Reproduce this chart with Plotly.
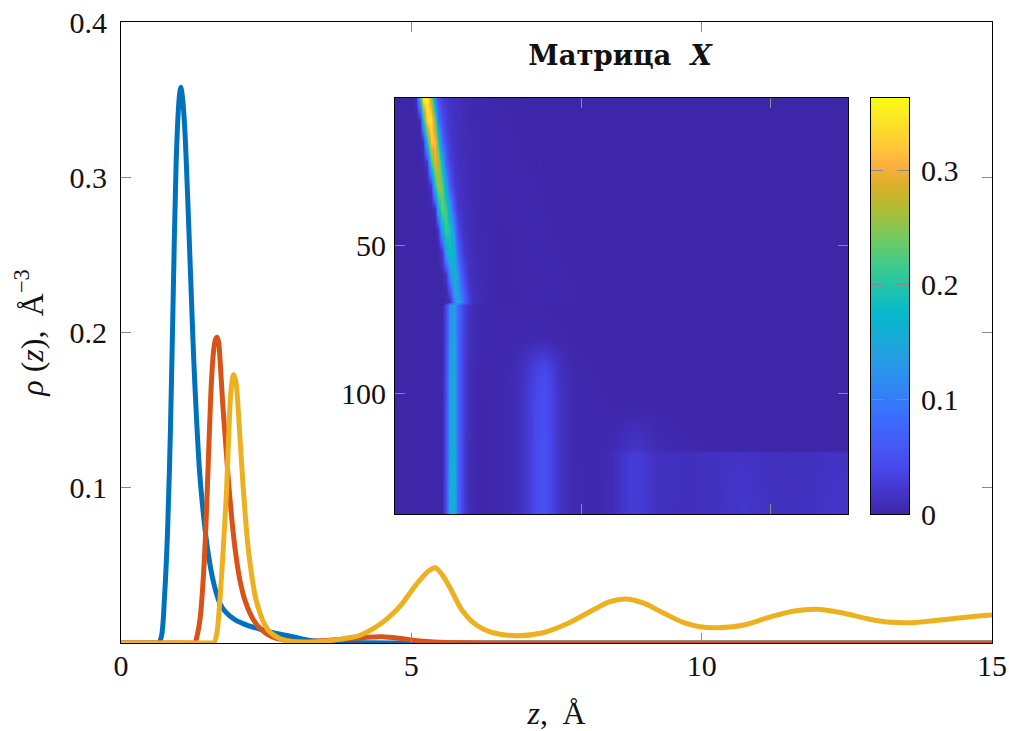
import numpy as np
import plotly.graph_objects as go

# ---------- line chart data ----------
z_blue = [0,0.3,0.5,0.6,0.65,0.70,0.75,0.80,0.85,0.90,0.95,1.0,1.03,1.06,1.1,1.15,1.2,1.25,1.3,1.35,1.4,1.5,1.6,1.7,1.8,1.96,2.2,2.45,2.7,2.96,3.2,3.43,3.8,4.2,5,6,8,10,12,14,15]
rho_blue = [0,0,0,0,0,.005,.03,.07,.135,.225,.31,.35,.358,.351,.33,.285,.235,.185,.145,.112,.09,.058,.038,.0258,.02,.015,.011,.0084,.006,.004,.002,.001,.0005,.0002,0,0,0,0,0,0,0]
z_red = [0,0.4,0.8,1.1,1.2,1.27,1.30,1.36,1.40,1.45,1.487,1.52,1.56,1.60,1.63,1.653,1.68,1.71,1.75,1.8,1.86,1.96,2.05,2.15,2.28,2.42,2.6,2.79,3.0,3.3,3.6,3.9,4.2,4.5,4.8,5.1,5.5,6,6.5,7,8,9,10,11,12,13,14,15]
rho_red = [0,0,0,0,0,0,.003,.015,.032,.065,.1,.1336,.17,.19,.196,.197,.194,.18,.155,.13,.1,.062,.04,.0258,.015,.0084,.004,.002,.001,.0012,.0018,.0027,.0036,.004,.003,.0015,.0005,.0001,0,0,0,0,0,0,0,0,0,0]
z_yellow = [0,0.4,0.8,1.2,1.4,1.5,1.56,1.6,1.65,1.7,1.76,1.82,1.865,1.9,1.94,1.98,2.03,2.105,2.2,2.34,2.53,2.79,3.1,3.5,3.8,3.95,4.12,4.4,4.58,4.8,5.03,5.15,5.3,5.41,5.52,5.67,5.87,6.12,6.41,6.81,7.27,7.67,8.13,8.42,8.68,8.99,9.34,9.68,9.97,10.28,10.75,11.2,11.6,11.98,12.41,12.87,13.27,13.62,14.07,14.47,15]
rho_yellow = [0,0,0,0,0,0,0,0,.006,.026,.06,.1,.1436,.165,.173,.168,.1436,.1,.058,.0258,.0084,.002,.0006,.0012,.0025,.0035,.005,.0105,.0155,.0234,.035,.0406,.0465,.0485,.0445,.0353,.0213,.0116,.0066,.0047,.0066,.0122,.0213,.0266,.0283,.0258,.0193,.0133,.0105,.0099,.0118,.017,.0206,.0217,.0195,.0155,.0133,.0131,.0146,.0163,.018]

# ---------- matrix X, sampled rows/columns, values in thousandths ----------
matrix_rows = [1,8,15,22,30,38,45,52,60,66,69,70,78,82,86,90,96,104,108,112,116,119,120,130,140]
left_cols = [1,5,6,7,8,9,10,11,12,13,14,15,16,17,18,19,20,21,22,23,24,25,26]
right_cols = [28,31,34,36,38,40,42,44,47,50,54,58,61,63,65,67,70,74,78,81,85,89,93,97,101,105,110,115,120]
left_block = [
 [0,0,12,170,350,360,270,110,50,31,22,16,13,11,9,7,6,5,4,3.5,3,2.5,2],
 [0,0,0,12,180,340,345,240,95,46,27,19,15,12,10,7.5,6,5,4.5,4,3.5,3,2.5],
 [0,0,0,0,16,190,325,310,205,80,40,25,17,13,10,8.5,7,6,5,4.5,4,3.5,3],
 [0,0,0,0,3,24,215,300,270,165,65,31,21,15,11,9,7.5,6,5.5,5,4.5,4,3.5],
 [0,0,0,0,0,2,20,195,265,235,145,58,28,19,14,10.5,8,6.5,5,4.5,4,3.5,3],
 [0,0,0,0,0,0,2,13,155,235,215,135,55,26,17,12,9.5,8,5.5,5,4.5,4,3],
 [0,0,0,0,0,0,0,1,16,160,215,190,120,48,23,15,11,8,6,5,4.5,4,3],
 [0,0,0,0,0,0,0,0,1,23,155,185,165,80,38,18,12.5,8,6.5,5.5,4.5,4,3],
 [0,0,0,0,0,0,0,0,0,1,20,125,160,135,68,35,17,10,8,6,5,4,3],
 [0,0,0,0,0,0,0,0,0,0,3.5,45,135,145,100,50,24,15,9,7,5.5,4.5,3],
 [0,0,0,0,0,0,0,0,0,0,1,13.5,100,140,120,62,30,16,10,7,5.5,4.5,3],
 [0,0,0,0,0,0,0,0,0,1,40,120,135,90,50,28,15,9,6,5,4,3.5,3],
 [0,0,0,0,0,0,0,0,0,1,42,125,140,90,48,26,14,8,5,4,3.5,3,3],
 [0,0,0,0,0,0,0,0,0,1,43,128,143,90,47,25,13,8,5,4,3,3,3],
 [0,0,0,0,0,0,0,0,0,1,45,132,147,90,47,25,13,7,4.5,3.5,3,3,3],
 [0,0,0,0,0,0,0,0,0,1,46,135,150,90,46,24,12,7,4,3,2.5,2.5,3],
 [0,0,0,0,0,0,0,0,0,1,47,138,154,89,46,24,12,6.5,3.5,2.5,2,2.5,3],
 [0,0,0,0,0,0,0,0,0,1,48,142,158,88,45,23,11,6,3,2,2,2,2.5],
 [0,0,0,0,0,0,0,0,0,1,49,144,160,88,45,23,11,6,3,2,2,2,2.5],
 [0,0,0,0,0,0,0,0,0,1,49,145,161,88,45,22,11,5.5,3,2,1.5,2,2],
 [0,0,0,0,0,0,0,0,0,1,50,147,162,87,45,22,10,5,2.5,1.5,1.5,2,2],
 [0,0,0,0,0,0,0,0,0,1,50,148,163,87,45,22,10,5,2.5,1.5,1.5,2,2],
 [0,0,0,0,0,0,0,0,0,1,50,148,164,87,45,22,10,5,2.5,1.5,1.5,2,2],
 [0,0,0,0,0,0,0,0,0,1,50,150,167,87,45,22,9.5,5,2,1,1,1.5,2],
 [0,0,0,0,0,0,0,0,0,0,50,152,170,87,45,22,9,5,2,1,1,1.5,2],
]
right_block = [
 [2,1,1,.5,.5,.5,.5,.5,.5,.5,.5,.5,.5,.5,.5,.5,.5,.5,.5,.5,.5,.5,.5,.5,.5,.5,.5,.5,.5],
 [3,2,1,.5,.5,.5,.5,.5,.5,.5,.5,.5,.5,.5,.5,.5,.5,.5,.5,.5,.5,.5,.5,.5,.5,.5,.5,.5,.5],
 [3.5,3,1.5,1,.5,.5,.5,.5,.5,.5,.5,.5,.5,.5,.5,.5,.5,.5,.5,.5,.5,.5,.5,.5,.5,.5,.5,.5,.5],
 [3,3.5,2.5,1.5,1,.5,.5,.5,.5,.5,.5,.5,.5,.5,.5,.5,.5,.5,.5,.5,.5,.5,.5,.5,.5,.5,.5,.5,.5],
 [2.5,3,3.5,3,2,1,.5,.5,.5,.5,.5,.5,.5,.5,.5,.5,.5,.5,.5,.5,.5,.5,.5,.5,.5,.5,.5,.5,.5],
 [2,2.5,3.5,3.5,3,2,1,.5,.5,.5,.5,.5,.5,.5,.5,.5,.5,.5,.5,.5,.5,.5,.5,.5,.5,.5,.5,.5,.5],
 [2,2,3,3.5,3.5,3,2,1,.5,.5,.5,.5,.5,.5,.5,.5,.5,.5,.5,.5,.5,.5,.5,.5,.5,.5,.5,.5,.5],
 [2,2,2.5,3,3.5,3.5,3,2,1,.5,.5,.5,.5,.5,.5,.5,.5,.5,.5,.5,.5,.5,.5,.5,.5,.5,.5,.5,.5],
 [2,2,2.5,2.5,3,3.5,3.5,3,2,1,.5,.5,.5,.5,.5,.5,.5,.5,.5,.5,.5,.5,.5,.5,.5,.5,.5,.5,.5],
 [2,2,2,2.5,3,3,3.5,3.5,2.5,1.5,.5,.5,.5,.5,.5,.5,.5,.5,.5,.5,.5,.5,.5,.5,.5,.5,.5,.5,.5],
 [2,2,2,2.5,2.5,3,3.5,3.5,3,1.5,1,.5,.5,.5,.5,.5,.5,.5,.5,.5,.5,.5,.5,.5,.5,.5,.5,.5,.5],
 [2,2,2,2,2,1.5,1.5,1,.5,.5,.5,.5,.5,.5,.5,.5,.5,.5,.5,.5,.5,.5,.5,.5,.5,.5,.5,.5,.5],
 [3,3,3,3,3,3,2.5,2,1.5,1,.5,.5,.5,.5,.5,.5,.5,.5,.5,.5,.5,.5,.5,.5,.5,.5,.5,.5,.5],
 [3,3,4,5,6,6,4,3,2,1,.5,.5,.5,.5,.5,.5,.5,.5,.5,.5,.5,.5,.5,.5,.5,.5,.5,.5,.5],
 [3,4,7,13,19,22,15,8,3,2,1,.5,.5,.5,.5,.5,.5,.5,.5,.5,.5,.5,.5,.5,.5,.5,.5,.5,.5],
 [3,5,11,22,32,37,27,13,4,2.5,1.5,1,.5,.5,.5,.5,.5,.5,.5,.5,.5,.5,.5,.5,.5,.5,.5,.5,.5],
 [3,6,13,27,40,46,33,17,5,3,2,1.5,1,.5,.5,.5,.5,.5,.5,.5,.5,.5,.5,.5,.5,.5,.5,.5,.5],
 [3,6,14,29,44,49,35,18,6,3.5,2.5,2,1.5,1.5,1,1,.5,.5,.5,.5,.5,.5,.5,.5,.5,.5,.5,.5,.5],
 [3,6,14,29,44,49,35,18,6,4,3,3,4,5,6,5,3,1.5,1,.5,.5,.5,.5,.5,.5,.5,.5,.5,.5],
 [3,6,14,29,45,50,36,18,6,4,3.5,4,8,11,12,9,5,3,1.5,1,.5,.5,.5,.5,.5,.5,.5,.5,.5],
 [3,6,14,29,45,50,36,18,6,4,4,5,11,15,16,12,7,4,2.5,2,1,.5,.5,.5,.5,.5,.5,.5,.5],
 [3,6,14,29,46,51,36,18,6,4,4,6,14,18,19,14,8,5,3,2.5,2,1.5,1,.5,.5,.5,.5,.5,.5],
 [3,6,14,29,46,51,36,18,6,4,4,9,21,27,28,22,14,13,12,13,14,16,17,15,13,12,13,16,17],
 [3,6,14,29,46,51,36,18,6,4.5,4.5,9,21,27,28,22,14,12.5,12,13,14,18,19,16,13.5,12.5,14,17,18],
 [3,6,14,29,46,52,36,18,6,4.5,4.5,9,21,27,28,23,14,12,12,13,15,19,21,18,14,13,15,18,19],
]
colorbar_levels = [0, 0.363]
cmap_positions = [0,.06,.111,.163,.243,.323,.403,.483,.547,.595,.66,.724,.788,.844,.884,1]
cmap_colors = ["#3E26A8","#4436CD","#4747EB","#4558F5","#3A70FF","#2E8DF0","#1FA5DD","#05B8CC","#22C4A8","#3CCB8E",
               "#6FCB62","#A8BE38","#D8B028","#FFB040","#FFC838","#F9FB15"]

x_ticks = [0,5,10,15]
y_ticks = [0.1,0.2,0.3,0.4]
inset_y_ticks = [50,100]
inset_x_ticks = [50,100]
bar_ticks = [0,0.1,0.2,0.3]

matrix_cols = left_cols + right_cols
X = np.hstack([np.array(left_block), np.array(right_block)]) / 1000.0
parula = [[p, c] for p, c in zip(cmap_positions, cmap_colors)]

FONT = "Liberation Serif"
FS = 30
W, H = 1009, 731
L, R, T, B = 121, 992, 22, 643
PW, PH = R-L, B-T
def dx(a, b): return [(a-L)/PW, (b-L)/PW]
def dy(top, bottom): return [(B-bottom)/PH, (B-top)/PH]
TICK = "#8a8a8a"

fig = go.Figure()
for zz, rr, col in [(z_blue, rho_blue, "#0072BD"), (z_red, rho_red, "#D95319"), (z_yellow, rho_yellow, "#EDB120")]:
    fig.add_trace(go.Scatter(x=zz, y=rr, mode="lines", cliponaxis=False, showlegend=False,
                             line=dict(color=col, width=5, shape="spline", smoothing=0.9)))
fig.add_trace(go.Heatmap(x=matrix_cols, y=matrix_rows, z=X, xaxis="x2", yaxis="y2", zsmooth="best",
                         colorscale=parula, zmin=colorbar_levels[0], zmax=colorbar_levels[1], showscale=False))
fig.add_trace(go.Heatmap(x=[0,1], y=colorbar_levels, z=[[colorbar_levels[0]]*2, [colorbar_levels[1]]*2],
                         xaxis="x3", yaxis="y3", zsmooth="best", colorscale=parula,
                         zmin=colorbar_levels[0], zmax=colorbar_levels[1], showscale=False))

axis_base = dict(showgrid=False, zeroline=False, showline=True, linecolor="#000", linewidth=1, automargin=False,
                 mirror="ticks", ticks="inside", tickcolor=TICK, tickwidth=1,
                 tickfont=dict(family=FONT, size=FS, color="#111"))
fig.update_layout(
    width=W, height=H, autosize=False, paper_bgcolor="white", plot_bgcolor="white",
    margin=dict(l=L, r=W-R, t=T, b=H-B),
    font=dict(family=FONT, size=FS, color="#111"),
    title=dict(text="<b>Матрица  <i>X</i></b>", x=620/W, xanchor="center", y=1-55/H, yanchor="middle",
               font=dict(family="DejaVu Serif", size=27.5, color="#111")),
    xaxis=dict(axis_base, domain=[0,1], range=[0,15], tickvals=x_ticks, ticklen=10,
               ticktext=[str(v) for v in x_ticks], ticklabelstandoff=-4,
               title=dict(text="<i>z</i>,\u2009 Å", standoff=24, font=dict(family=FONT, size=32))),
    yaxis=dict(axis_base, domain=[0,1], range=[0,0.4], tickvals=y_ticks, ticklen=10,
               ticktext=["0.1","0.2","0.3","0.4"], ticklabelstandoff=7,
               title=dict(text="<i>ρ</i> (<i>z</i>),\u2009 Å<sup>−3</sup>", standoff=16, font=dict(family=FONT, size=32))),
    xaxis2=dict(axis_base, domain=dx(395,848), anchor="y2", range=[0.5,120.5], tickvals=inset_x_ticks,
                ticklen=10, showticklabels=False),
    yaxis2=dict(axis_base, domain=dy(98,514), anchor="x2", range=[140.5,0.5], tickvals=inset_y_ticks,
                ticklen=10, ticklabelstandoff=2),
    xaxis3=dict(axis_base, domain=dx(871,909), anchor="y3", range=[0,1], showticklabels=False, ticks=""),
    yaxis3=dict(axis_base, domain=dy(98,514), anchor="x3", side="right", range=colorbar_levels,
                tickvals=bar_ticks, ticktext=["0","0.1","0.2","0.3"], ticklen=12, ticklabelstandoff=5),
)
fig.write_html("out.html", config=dict(displayModeBar=False),
               post_script="document.body.style.margin='0';document.body.style.overflow='hidden';")
